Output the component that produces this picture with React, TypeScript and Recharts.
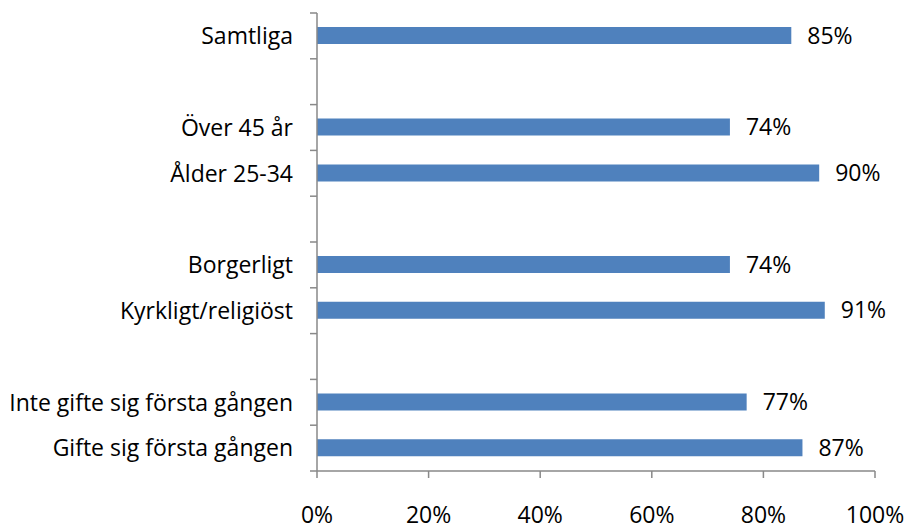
import { BarChart, Bar, XAxis, YAxis, LabelList } from "recharts";

// top to bottom; empty strings are the spacer rows between groups
const categories = [
  "Samtliga",
  "",
  "Över 45 år",
  "Ålder 25-34",
  "",
  "Borgerligt",
  "Kyrkligt/religiöst",
  "",
  "Inte gifte sig första gången",
  "Gifte sig första gången",
];
const values = [85, null, 74, 90, null, 74, 91, null, 77, 87];
const xTicks = [0, 20, 40, 60, 80, 100];

const data = categories.map((name, i) => ({ name, value: values[i] }));

const W = 910;
const H = 526;
const M = { top: 13, right: 35, left: 0, bottom: 0 };
const X_AXIS_H = 55;
const Y_AXIS_W = 317;
const TICK = 7;
const band = (H - M.top - M.bottom - X_AXIS_H) / categories.length;

const axisColor = "#898989";
const font = "'Open Sans', sans-serif";
const fs = 23;

// category label plus Excel-style tick marks on the row boundaries
const CatTick = (props: any) => {
  const { x, y, payload, index } = props;
  const ax = M.left + Y_AXIS_W;
  const last = index === categories.length - 1;
  return (
    <g>
      <line x1={ax - TICK} x2={ax} y1={y - band / 2} y2={y - band / 2} stroke={axisColor} strokeWidth={1.5} />
      {last && (
        <line x1={ax - TICK} x2={ax} y1={y + band / 2} y2={y + band / 2} stroke={axisColor} strokeWidth={1.5} />
      )}
      <text x={x} y={y} dy="0.36em" textAnchor="end" fill="#000" fontSize={fs} fontFamily={font}>
        {payload.value}
      </text>
    </g>
  );
};

const App = () => (
  <div style={{ position: "absolute", left: 0, top: 0, fontFamily: font }}>
    <BarChart width={W} height={H} data={data} layout="vertical" margin={M}>
      <XAxis
        type="number"
        domain={[0, 100]}
        ticks={xTicks}
        tickFormatter={(v) => `${v}%`}
        height={X_AXIS_H}
        tickSize={TICK}
        tickMargin={29}
        stroke={axisColor}
        strokeWidth={1.5}
        tick={{ fill: "#000", fontSize: fs, fontFamily: font }}
      />
      <YAxis
        type="category"
        dataKey="name"
        width={Y_AXIS_W}
        stroke={axisColor}
        strokeWidth={1.5}
        tickLine={false}
        tickSize={TICK}
        tickMargin={17}
        interval={0}
        tick={<CatTick />}
      />
      <Bar dataKey="value" fill="#4F81BD" barSize={17} isAnimationActive={false}>
        <LabelList
          dataKey="value"
          position="right"
          offset={16}
          formatter={(v: any) => (v == null ? "" : `${v}%`)}
          style={{ fill: "#000", fontSize: fs, fontFamily: font }}
        />
      </Bar>
    </BarChart>
  </div>
);

export default App;
